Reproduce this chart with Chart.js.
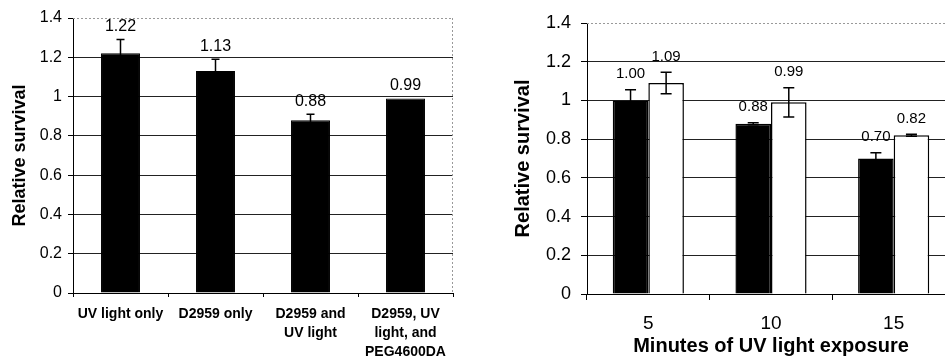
<!DOCTYPE html>
<html>
<head>
<meta charset="utf-8">
<script src="https://cdn.jsdelivr.net/npm/chart.js@4.4.1/dist/chart.umd.min.js"></script>
<style>
  body { margin: 0; background: #fff; overflow: hidden; width: 945px; height: 356px; position: relative; }
  #treatChart { position: absolute; left: 0; top: 0; }
  #timeChart { position: absolute; left: 470px; top: 0; }
</style>
</head>
<body>
<canvas id="treatChart" width="470" height="356"></canvas>
<canvas id="timeChart" width="485" height="356"></canvas>
<script>
// left panel: treatments
const treatments = [['UV light only'], ['D2959 only'], ['D2959 and', 'UV light'], ['D2959, UV', 'light, and', 'PEG4600DA']];
const treatSurvival = [1.22, 1.13, 0.88, 0.99];
const treatError = [0.07, 0.06, 0.03, 0];

// right panel: exposure time
const exposureMinutes = ['5', '10', '15'];
const blackSurvival = [1.00, 0.88, 0.70];
const blackError = [0.055, 0.005, 0.03];
const whiteSurvival = [1.09, 0.99, 0.82];
const whiteError = [0.055, 0.076, 0.005];

const yTicks = [0, 0.2, 0.4, 0.6, 0.8, 1, 1.2, 1.4];

Chart.defaults.font.family = '"Liberation Sans", Arial, sans-serif';
Chart.defaults.color = '#000';

// error bars + value labels above each bar
const barNotes = {
  id: 'barNotes',
  afterDatasetsDraw(chart, args, opts) {
    const ctx = chart.ctx;
    const y = chart.scales.y;
    chart.data.datasets.forEach((ds, di) => {
      const meta = chart.getDatasetMeta(di);
      meta.data.forEach((bar, i) => {
        const v = ds.data[i];
        const e = ds.errors[i];
        const top = y.getPixelForValue(v + e);
        const bot = y.getPixelForValue(v - e);
        ctx.save();
        ctx.strokeStyle = '#000';
        ctx.lineWidth = 1.5;
        if (e > 0) {
          ctx.beginPath();
          ctx.moveTo(bar.x, top); ctx.lineTo(bar.x, bot);
          ctx.moveTo(bar.x - opts.cap / 2, top); ctx.lineTo(bar.x + opts.cap / 2, top);
          ctx.moveTo(bar.x - opts.cap / 2, bot); ctx.lineTo(bar.x + opts.cap / 2, bot);
          ctx.stroke();
        }
        ctx.fillStyle = '#000';
        ctx.font = opts.size + 'px "Liberation Sans", Arial, sans-serif';
        ctx.textAlign = 'center';
        ctx.textBaseline = 'bottom';
        ctx.fillText(v.toFixed(2), bar.x, Math.min(top, y.getPixelForValue(v)) - opts.gap);
        ctx.restore();
      });
    });
  }
};

// dotted frame on top / right of the plot
const dottedFrame = {
  id: 'dottedFrame',
  beforeDatasetsDraw(chart) {
    const { ctx, chartArea: a } = chart;
    ctx.save();
    ctx.strokeStyle = '#999';
    ctx.lineWidth = 1;
    ctx.setLineDash([2, 2]);
    ctx.beginPath();
    ctx.moveTo(a.left, a.top + 0.5); ctx.lineTo(a.right, a.top + 0.5);
    ctx.moveTo(a.right - 0.5, a.top); ctx.lineTo(a.right - 0.5, a.bottom);
    ctx.stroke();
    ctx.restore();
  }
};

function yScale(o) {
  return {
    min: 0, max: 1.4,
    afterBuildTicks: s => { s.ticks = yTicks.map(v => ({ value: v })); },
    afterFit: s => { s.width = o.width; },
    ticks: { font: { size: o.tick }, padding: o.pad, callback: v => String(+v.toFixed(1)) },
    grid: {
      color: c => (c.tick && Math.abs(c.tick.value - 1.4) < 1e-6) ? 'transparent' : '#222',
      tickColor: '#000', tickLength: o.tl, lineWidth: 1
    },
    border: { color: '#000', width: 1 },
    title: { display: true, text: 'Relative survival', font: { size: o.title, weight: 'bold' }, padding: { top: o.tpad } }
  };
}

new Chart(document.getElementById('treatChart'), {
  type: 'bar',
  data: {
    labels: treatments,
    datasets: [{
      data: treatSurvival, errors: treatError,
      backgroundColor: '#000', borderColor: '#000', borderWidth: 1,
      barPercentage: 0.41, categoryPercentage: 1
    }]
  },
  options: {
    responsive: false, animation: false, devicePixelRatio: 1,
    layout: { padding: { top: 18, right: 17, left: 0, bottom: 0 } },
    plugins: { legend: { display: false }, tooltip: { enabled: false }, barNotes: { cap: 8, size: 16, gap: 5 } },
    scales: {
      x: {
        afterFit: s => { s.height = 63; },
        ticks: { font: { size: 14, weight: 'bold', lineHeight: 1.38 }, padding: 7, maxRotation: 0, autoSkip: false },
        grid: { drawOnChartArea: false, tickLength: 4, tickColor: '#000' },
        border: { color: '#000' }
      },
      y: yScale({ width: 73, tick: 16, pad: 6, tl: 5, title: 18, tpad: 9 })
    }
  },
  plugins: [dottedFrame, barNotes]
});

new Chart(document.getElementById('timeChart'), {
  type: 'bar',
  data: {
    labels: exposureMinutes,
    datasets: [
      { data: blackSurvival, errors: blackError, backgroundColor: '#000', borderColor: '#000', borderWidth: 1.5,
        barPercentage: 1, categoryPercentage: 0.58 },
      { data: whiteSurvival, errors: whiteError, backgroundColor: '#fff', borderColor: '#000', borderWidth: 1.5,
        barPercentage: 1, categoryPercentage: 0.58 }
    ]
  },
  options: {
    responsive: false, animation: false, devicePixelRatio: 1,
    layout: { padding: { top: 23, right: 0, left: 0, bottom: 0 } },
    plugins: { legend: { display: false }, tooltip: { enabled: false }, barNotes: { cap: 11, size: 15, gap: 8 } },
    scales: {
      x: {
        afterFit: s => { s.height = 62; },
        ticks: { font: { size: 19 }, padding: 12, maxRotation: 0 },
        grid: { drawOnChartArea: false, tickLength: 6, tickColor: '#000' },
        border: { color: '#000' },
        title: { display: true, text: 'Minutes of UV light exposure', font: { size: 20, weight: 'bold', lineHeight: 1 }, padding: { top: 0, bottom: 0 } }
      },
      y: yScale({ width: 117, tick: 18, pad: 10, tl: 6, title: 20, tpad: 41 })
    }
  },
  plugins: [dottedFrame, barNotes]
});
</script>
</body>
</html>
